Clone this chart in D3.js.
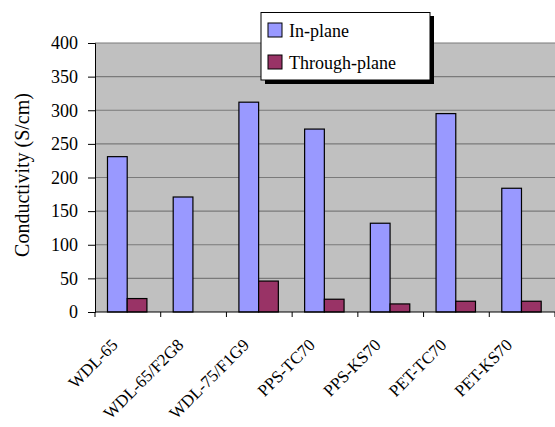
<!DOCTYPE html>
<html><head><meta charset="utf-8">
<script src="https://cdn.jsdelivr.net/npm/d3@7"></script>
<style>body{margin:0;background:#fff}svg{display:block}text{font-family:"Liberation Serif","Times New Roman",serif;fill:#000}</style>
</head><body>
<svg id="c" width="555" height="427"></svg>
<script>
const categories = ["WDL-65","WDL-65/F2G8","WDL-75/F1G9","PPS-TC70","PPS-KS70","PET-TC70","PET-KS70"];
const inPlane = [231, 171, 312, 272, 132, 295, 184];
const throughPlane = [20, 0, 46, 19, 12, 16, 16];
const seriesNames = ["In-plane","Through-plane"];
const yTicks = [0,50,100,150,200,250,300,350,400];

const svg = d3.select("#c");
const m = {l:95, r:555, t:43, b:312};
const x = d3.scaleBand().domain(categories).range([m.l, m.r]);
const y = d3.scaleLinear().domain([0,400]).range([m.b, m.t]);
const colors = ["#9999ff","#993366"];

svg.append("rect").attr("x",m.l).attr("y",m.t).attr("width",m.r-m.l).attr("height",m.b-m.t).attr("fill","#c0c0c0");
svg.append("g").selectAll("line").data(yTicks.slice(1)).join("line")
  .attr("x1",m.l).attr("x2",m.r).attr("y1",d=>y(d)).attr("y2",d=>y(d))
  .attr("stroke","#7a7a7a").attr("stroke-width",1.2);

const bw = x.bandwidth()*0.3;
const off = x.bandwidth()*0.19;
const data = categories.map((c,i)=>({c, v:[inPlane[i], throughPlane[i]]}));
const g = svg.append("g");
data.forEach(d=>{
  d.v.forEach((v,j)=>{
    if(v<=0) return;
    g.append("rect").attr("x",x(d.c)+off+j*bw).attr("y",y(v)).attr("width",bw).attr("height",y(0)-y(v))
      .attr("fill",colors[j]).attr("stroke","#000").attr("stroke-width",1.2);
  });
});

// y axis
const ya = svg.append("g").attr("transform",`translate(${m.l},0)`)
  .call(d3.axisLeft(y).tickValues(yTicks).tickSize(7).tickPadding(10));
ya.select(".domain").attr("stroke","#000").attr("stroke-width",1);
ya.selectAll("text").attr("font-size","18px").attr("font-family","Liberation Serif, serif").attr("fill","#000");
ya.selectAll("line").attr("stroke","#000");

// x axis
const xa = svg.append("g").attr("transform",`translate(0,${m.b})`);
xa.append("line").attr("x1",m.l).attr("x2",m.r).attr("stroke","#000");
xa.selectAll("line.t").data(categories.concat(["_end"])).join("line").attr("class","t")
  .attr("x1",(d,i)=>m.l+i*x.step()).attr("x2",(d,i)=>m.l+i*x.step()).attr("y1",0).attr("y2",5).attr("stroke","#000");
xa.selectAll("text").data(categories).join("text")
  .attr("transform",d=>`translate(${x(d)+x.bandwidth()/2-9},${34}) rotate(-45)`)
  .attr("text-anchor","end").attr("font-size","17px").text(d=>d);

// y title
svg.append("text").attr("transform","translate(29,175) rotate(-90)").attr("text-anchor","middle")
  .attr("font-size","20px").text("Conductivity (S/cm)");

// legend
const lg = svg.append("g");
lg.append("rect").attr("x",265).attr("y",16).attr("width",169).attr("height",68).attr("fill","#000");
lg.append("rect").attr("x",261).attr("y",12.5).attr("width",169).attr("height",67.5).attr("fill","#fff").attr("stroke","#000").attr("stroke-width",1);
seriesNames.forEach((s,i)=>{
  lg.append("rect").attr("x",268).attr("y",23+i*32).attr("width",14).attr("height",14).attr("fill",colors[i]).attr("stroke","#000").attr("stroke-width",1);
  lg.append("text").attr("x",289).attr("y",37+i*32).attr("font-size","18px").text(s);
});
</script>
</body></html>
